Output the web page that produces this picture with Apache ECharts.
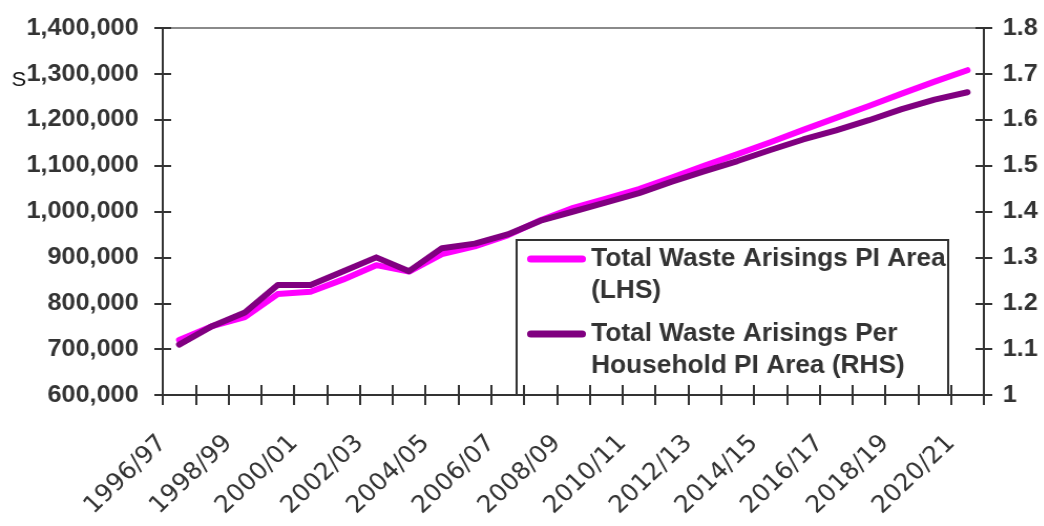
<!DOCTYPE html>
<html>
<head>
<meta charset="utf-8">
<script src="https://cdn.jsdelivr.net/npm/echarts@6/dist/echarts.min.js"></script>
<style>
  html, body { margin: 0; padding: 0; overflow: hidden; background: #fff; }
  #chart { width: 994px; height: 526px; transform: scaleX(1.05); transform-origin: 0 0; }
</style>
</head>
<body>
<div id="chart"></div>
<script>
const categories = ['1996/97','1997/98','1998/99','1999/00','2000/01','2001/02','2002/03','2003/04','2004/05','2005/06','2006/07','2007/08','2008/09','2009/10','2010/11','2011/12','2012/13','2013/14','2014/15','2015/16','2016/17','2017/18','2018/19','2019/20','2020/21'];
const totalWasteLHS = [720000,750000,770000,820000,825000,852000,883000,869000,907000,924000,948000,981000,1008000,1028000,1049000,1074000,1100000,1125000,1151000,1178000,1204000,1230000,1257000,1283000,1308000];
const perHouseholdRHS = [1.11,1.15,1.18,1.24,1.24,1.27,1.30,1.27,1.32,1.33,1.35,1.38,1.40,1.42,1.44,1.465,1.488,1.51,1.534,1.557,1.577,1.599,1.623,1.644,1.66];
const seriesNames = ['Total Waste Arisings PI Area (LHS)', 'Total Waste Arisings Per Household PI Area (RHS)'];
const legendLabels = ['Total Waste Arisings PI Area\n(LHS)', 'Total Waste Arisings Per\nHousehold PI Area (RHS)'];
const leftAxis = { min: 600000, max: 1400000, interval: 100000 };
const rightAxis = { min: 1, max: 1.8, interval: 0.1 };

const axisColor = '#333';
const chart = echarts.init(document.getElementById('chart'), null, { renderer: 'canvas' });

function yAx(pos, range, inside, labels) {
  return {
    type: 'value', position: pos, min: range.min, max: range.max, interval: range.interval,
    splitLine: { show: false },
    axisLine: { show: true, lineStyle: { color: axisColor, width: 2 } },
    axisTick: { show: true, inside: inside, length: 8, lineStyle: { color: axisColor, width: 2 } },
    axisLabel: labels ? Object.assign({
      show: true, color: '#333', fontSize: 24, fontWeight: 'bold', fontFamily: 'Liberation Sans, Arial, sans-serif'
    }, labels) : { show: false }
  };
}
function xAx(inside, labels) {
  return {
    type: 'category', data: categories, position: 'bottom', boundaryGap: true,
    axisLine: { show: true, lineStyle: { color: axisColor, width: 2 } },
    axisTick: { show: true, inside: inside, interval: 0, length: 10, lineStyle: { color: axisColor, width: 2 } },
    splitLine: { show: false },
    axisLabel: labels ? Object.assign({ show: true }, labels) : { show: false }
  };
}
const iconPath = 'path://M3.5,0H52.5A3.5,3.5,0,0,1,52.5,7H3.5A3.5,3.5,0,0,1,3.5,0Z';
function legendFor(i, top) {
  return {
    show: true, data: [seriesNames[i]], left: 502, top: top, padding: 0, orient: 'vertical',
    itemWidth: 56, itemHeight: 7, icon: iconPath, selectedMode: false,
    // leading empty line keeps the icon level with the first text line
    formatter: function (name) { return '\n' + legendLabels[seriesNames.indexOf(name)]; },
    textStyle: { color: '#333', fontSize: 25, fontWeight: 'bold', fontFamily: 'Liberation Sans, Arial, sans-serif', lineHeight: 32 }
  };
}

chart.setOption({
  animation: false,
  backgroundColor: '#fff',
  grid: { left: 155, right: 57, top: 28, bottom: 131, containLabel: false, outerBoundsMode: 'none',
          show: true, borderColor: '#8a8a8a', borderWidth: 2, backgroundColor: 'transparent' },
  xAxis: [
    xAx(false, { interval: 1, rotate: 45, margin: 29, padding: [0, 22, 0, 0], color: '#333', fontSize: 24, fontFamily: 'DejaVu Sans, sans-serif' }),
    xAx(true, null)
  ],
  yAxis: [
    yAx('left', leftAxis, false, { margin: 23, formatter: v => Number(v).toLocaleString('en-US') }),
    yAx('left', leftAxis, true, null),
    yAx('right', rightAxis, false, { margin: 18, formatter: v => String(+Number(v).toFixed(1)) }),
    yAx('right', rightAxis, true, null)
  ],
  legend: [legendFor(0, 211), legendFor(1, 286)],
  graphic: [
    { type: 'rect', shape: { x: 492, y: 240, width: 411, height: 155 }, style: { fill: 'none', stroke: '#333', lineWidth: 2 }, z: 3 },
    { type: 'text', left: 11, top: 70, style: { text: 'S', fontSize: 21, fontFamily: 'Liberation Sans, Arial, sans-serif', fill: '#111' } }
  ],
  series: [
    { name: seriesNames[0], type: 'line', data: totalWasteLHS, xAxisIndex: 0, yAxisIndex: 0, color: '#FF00FF',
      showSymbol: false, symbol: 'none', lineStyle: { width: 6, cap: 'round', join: 'round' }, z: 5 },
    { name: seriesNames[1], type: 'line', data: perHouseholdRHS, xAxisIndex: 0, yAxisIndex: 2, color: '#800080',
      showSymbol: false, symbol: 'none', lineStyle: { width: 6, cap: 'round', join: 'round' }, z: 6 }
  ]
});
</script>
</body>
</html>
